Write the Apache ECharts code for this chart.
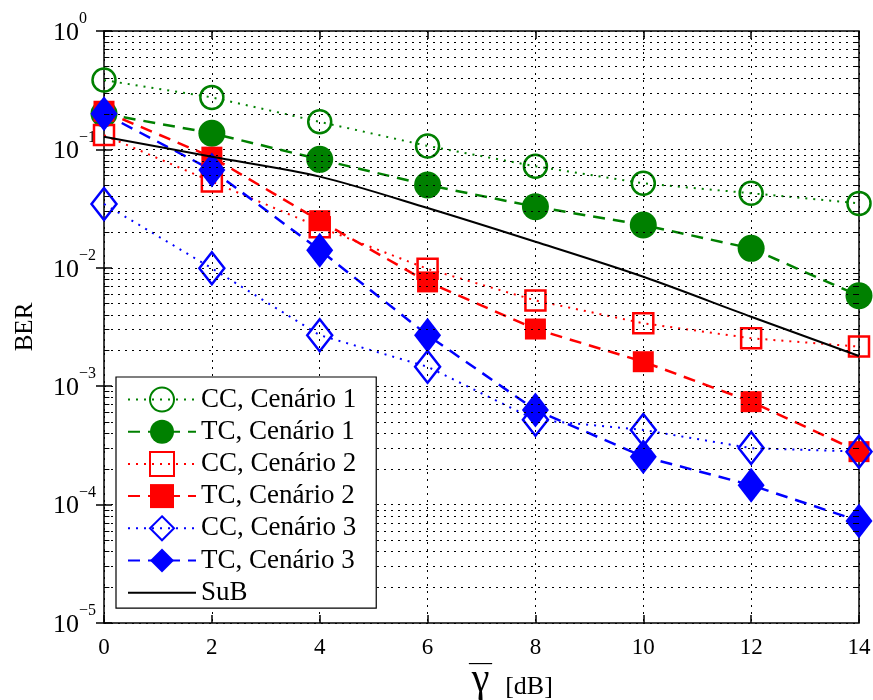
<!DOCTYPE html>
<html>
<head>
<meta charset="utf-8">
<script src="https://cdn.jsdelivr.net/npm/echarts@6/dist/echarts.min.js"></script>
<style>
  html, body { margin: 0; padding: 0; background: #fff; }
  #chart { width: 873px; height: 700px; }
</style>
</head>
<body>
<div id="chart"></div>
<script>
// SNR points (dB)
const snrDb = [0, 2, 4, 6, 8, 10, 12, 14];

// Bit error rate per scheme
const ccScen1 = [0.385, 0.275, 0.171, 0.107, 0.072, 0.0517, 0.0426, 0.035];
const tcScen1 = [0.2, 0.137, 0.0824, 0.05, 0.0328, 0.023, 0.0146, 0.0058];
const ccScen2 = [0.132, 0.0535, 0.022, 0.0098, 0.0053, 0.0034, 0.00254, 0.00216];
const tcScen2 = [0.21, 0.086, 0.025, 0.0076, 0.00304, 0.00161, 0.00074, 0.00028];
const ccScen3 = [0.0346, 0.0099, 0.0027, 0.00146, 0.00052, 0.000427, 0.0003, 0.00028];
const tcScen3 = [0.2, 0.067, 0.0141, 0.0027, 0.00063, 0.000254, 0.000146, 0.0000727];
const subBound = [0.128, 0.0867, 0.0589, 0.032, 0.0166, 0.0084, 0.00386, 0.0018];

const seriesNames = ['CC, Cenário 1', 'TC, Cenário 1', 'CC, Cenário 2', 'TC, Cenário 2',
                     'CC, Cenário 3', 'TC, Cenário 3', 'SuB'];

// y tick exponents, indexed by decade below 10^0
const yTickExponents = ['0', '\u22121', '\u22122', '\u22123', '\u22124', '\u22125'];

// y-axis decades and the in-between log grid multipliers
const decadeExponents = [-5, -4, -3, -2, -1];
const minorMultipliers = [2, 3, 4, 5, 6, 7, 8, 9];

const GREEN = '#008000', RED = '#ff0000', BLUE = '#0000ff';
const FONT = 'Liberation Serif';
const gridDot = { color: '#000', width: 1, type: [2, 5] };
const tickStyle = { color: '#000', width: 1, type: 'solid' };

function pairs(ys) { return snrDb.map((x, i) => [x, ys[i]]); }
function decadeIndex(v) { return Math.round(-Math.log(v) / Math.LN10); }

// minor log gridlines plus the small inner ticks on both side walls
const minorLines = [];
decadeExponents.forEach(e => {
  minorMultipliers.forEach(m => {
    const v = m * Math.pow(10, e);
    minorLines.push([{ coord: [0, v], lineStyle: gridDot }, { coord: [14, v] }]);
    minorLines.push([{ coord: [0, v], lineStyle: tickStyle }, { coord: [0.1, v] }]);
    minorLines.push([{ coord: [13.9, v], lineStyle: tickStyle }, { coord: [14, v] }]);
  });
});

function markerSeries(name, ys, color, symbol, size, filled, dash, width) {
  return {
    name, type: 'line', data: pairs(ys),
    symbol, symbolSize: size, showSymbol: true,
    lineStyle: { color, width, type: dash },
    itemStyle: filled
      ? { color, borderColor: color, borderWidth: 0 }
      : { color: 'rgba(255,255,255,0)', borderColor: color, borderWidth: 2.5 },
    emphasis: { disabled: true },
    animation: false, z: 3
  };
}

const sideTicks = { inside: true, length: 8, lineStyle: { color: '#000', width: 1.5 } };

const chart = echarts.init(document.getElementById('chart'));
chart.setOption({
  backgroundColor: '#fff',
  animation: false,
  grid: { left: 104, right: 14, top: 31, bottom: 77, outerBoundsMode: 'none', show: true, borderColor: '#000', borderWidth: 1.5, backgroundColor: '#fff' },
  xAxis: [{
    type: 'value', min: 0, max: 14, interval: 2, position: 'bottom',
    axisLine: { show: false },
    axisTick: sideTicks,
    axisLabel: { fontFamily: FONT, fontSize: 23, color: '#000', margin: 13 },
    splitLine: { show: true, lineStyle: gridDot },
    name: '[dB]', nameLocation: 'middle', nameGap: 51,
    nameTextStyle: { fontFamily: FONT, fontSize: 26, color: '#000', padding: [0, 0, 0, 95] }
  }, {
    type: 'value', min: 0, max: 14, interval: 2, position: 'top',
    axisLine: { show: false },
    axisTick: sideTicks,
    axisLabel: { show: false }, splitLine: { show: false }
  }, {
    // carries the barred gamma of the axis title
    type: 'value', min: 0, max: 14, position: 'bottom',
    axisLine: { show: false }, axisTick: { show: false },
    axisLabel: { show: false }, splitLine: { show: false },
    name: '{m|\u2014}\n{g|\u03B3}', nameLocation: 'middle', nameGap: 35,
    nameTextStyle: {
      padding: [0, 2, 0, 0],
      rich: {
        m: { fontFamily: FONT, fontSize: 23, color: '#000', lineHeight: 10 },
        g: { fontFamily: FONT, fontSize: 40, color: '#000', lineHeight: 24 }
      }
    }
  }],
  yAxis: [{
    type: 'log', logBase: 10, min: 1e-5, max: 1, position: 'left',
    axisLine: { show: false },
    axisTick: sideTicks,
    splitLine: { show: true, lineStyle: gridDot },
    axisLabel: {
      margin: 25, formatter: () => '10',
      fontFamily: FONT, fontSize: 26, color: '#000',
      verticalAlign: 'top', lineHeight: 4
    },
    name: 'BER', nameLocation: 'middle', nameGap: 66,
    nameTextStyle: { fontFamily: FONT, fontSize: 25, color: '#000' }
  }, {
    type: 'log', logBase: 10, min: 1e-5, max: 1, position: 'right',
    axisLine: { show: false },
    axisTick: sideTicks,
    axisLabel: { show: false }, splitLine: { show: false }
  }, {
    // exponents of the decade labels, set as superscripts
    type: 'log', logBase: 10, min: 1e-5, max: 1, position: 'left',
    axisLine: { show: false }, axisTick: { show: false }, splitLine: { show: false },
    axisLabel: {
      margin: 25, align: 'left',
      formatter: v => yTickExponents[decadeIndex(v)],
      fontFamily: FONT, fontSize: 16, color: '#000',
      verticalAlign: 'bottom', lineHeight: 24
    }
  }],
  legend: {
    data: seriesNames.map(n => n === 'SuB' ? { name: n, itemStyle: { opacity: 0 } } : n),
    orient: 'vertical', left: 116, top: 377,
    padding: [9, 20, 2, 11],
    itemWidth: 68, itemHeight: 30, itemGap: 5.2,
    backgroundColor: '#fff', borderColor: '#000', borderWidth: 1.2,
    textStyle: { fontFamily: FONT, fontSize: 27, color: '#000' },
    selectedMode: false, z: 10
  },
  series: [
    {
      name: 'grid-minor', type: 'line', data: [], silent: true, z: 1,
      markLine: { silent: true, symbol: ['none', 'none'], label: { show: false }, animation: false, data: minorLines }
    },
    markerSeries(seriesNames[0], ccScen1, GREEN, 'circle', 23, false, [2, 6], 2),
    markerSeries(seriesNames[1], tcScen1, GREEN, 'circle', 27, true, [12, 8], 2.5),
    markerSeries(seriesNames[2], ccScen2, RED, 'rect', 20, false, [2, 6], 2),
    markerSeries(seriesNames[3], tcScen2, RED, 'rect', 21, true, [12, 8], 2.5),
    markerSeries(seriesNames[4], ccScen3, BLUE, 'diamond', [25, 32], false, [2, 6], 2),
    markerSeries(seriesNames[5], tcScen3, BLUE, 'diamond', [27, 35], true, [12, 8], 2.5),
    {
      name: 'SuB', type: 'line', data: pairs(subBound), smooth: 0.3,
      symbol: 'none', showSymbol: false,
      lineStyle: { color: '#000', width: 2, type: 'solid' },
      itemStyle: { color: '#000' },
      emphasis: { disabled: true }, animation: false, z: 4
    }
  ]
});
</script>
</body>
</html>
